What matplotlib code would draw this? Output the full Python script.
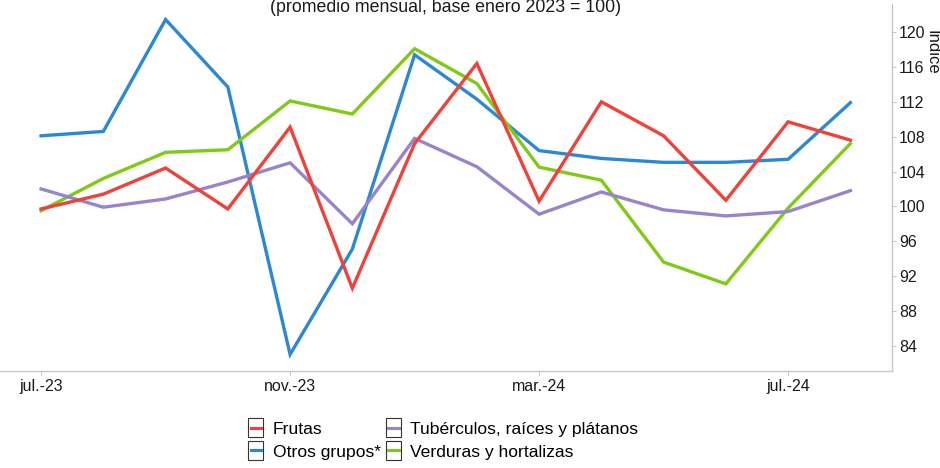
import matplotlib
matplotlib.use('Agg')
from matplotlib import pyplot as plt
from matplotlib.patches import Rectangle
from matplotlib.lines import Line2D

plt.rcParams['font.family'] = ['Liberation Sans', 'DejaVu Sans']

# meses jul-23 .. ago-24
meses = ['jul.-23', 'ago.-23', 'sep.-23', 'oct.-23', 'nov.-23', 'dic.-23', 'ene.-24',
         'feb.-24', 'mar.-24', 'abr.-24', 'may.-24', 'jun.-24', 'jul.-24', 'ago.-24']
frutas = [99.7, 101.4, 104.4, 99.7, 109.1, 90.6, 107.2, 116.4, 100.6, 112.0, 108.1, 100.7, 109.7, 107.6]
otros = [108.1, 108.6, 121.45, 113.7, 83.0, 95.1, 117.4, 112.3, 106.4, 105.5, 105.05, 105.05, 105.4, 111.9]
tuberculos = [102.0, 99.9, 100.85, 102.8, 105.0, 98.0, 107.8, 104.55, 99.1, 101.65, 99.6, 98.9, 99.4, 101.8]
verduras = [99.5, 103.2, 106.2, 106.5, 112.1, 110.6, 118.1, 114.1, 104.5, 103.0, 93.6, 91.1, 99.8, 107.2]

series = [
    ('Frutas', frutas, '#f0413a'),
    ('Otros grupos*', otros, '#2d88d3'),
    ('Tubérculos, raíces y plátanos', tuberculos, '#9884cb'),
    ('Verduras y hortalizas', verduras, '#80c916'),
]
# orden de dibujo (verduras debajo, frutas encima al final)
orden_dibujo = [1, 3, 2, 0]


class CajaHandler:
    # cuadro con borde y linea corta dentro, como la leyenda original
    def legend_artist(self, legend, orig_handle, fontsize, handlebox):
        x0, y0 = handlebox.xdescent, handlebox.ydescent
        w, h = handlebox.width, handlebox.height
        rect = Rectangle((x0 - 0.5, y0 - 0.25 * h), w, h * 1.5, facecolor='white',
                         edgecolor='#333333', lw=0.8, transform=handlebox.get_transform())
        ln = Line2D([x0 + 1.2, x0 + w - 2.2], [y0 + h / 2, y0 + h / 2], color=orig_handle.get_color(),
                    lw=2.2, transform=handlebox.get_transform())
        handlebox.add_artist(rect)
        handlebox.add_artist(ln)
        return rect


fig = plt.figure(figsize=(9.4, 4.68), dpi=100)
ax = fig.add_axes([0.0, 0.2073, 0.949, 0.7836])

x = list(range(len(meses)))
lineas = {}
for i in orden_dibujo:
    nombre, vals, color = series[i]
    l, = ax.plot(x, vals, color=color, lw=2.4, label=nombre, solid_joinstyle='miter')
    lineas[i] = l

ax.set_xlim(-0.66, 13.67)
ax.set_ylim(81.1, 123.2)

ax.set_xticks(x[::4])
ax.set_xticklabels(meses[::4])
ax.set_yticks(range(84, 121, 4))

ax.yaxis.tick_right()
for s in ['left', 'top']:
    ax.spines[s].set_visible(False)
for s in ['bottom', 'right']:
    ax.spines[s].set_color('#c8c8c8')
    ax.spines[s].set_linewidth(1.0)
ax.tick_params(axis='both', colors='#c8c8c8', length=3, width=0.8, labelcolor='#1a1a1a', labelsize=11.5)
ax.tick_params(axis='x', pad=3)
ax.tick_params(axis='y', pad=2)

fig.text(0.991, 0.889, 'Indice', rotation=-90, ha='center', va='center', fontsize=12, color='#1a1a1a')
fig.text(0.4745, 0.983, '(promedio mensual, base enero 2023 = 100)', ha='center', va='center',
         fontsize=12.8, color='#1a1a1a')

handles = [lineas[0], lineas[1], lineas[2], lineas[3]]
labels = [series[i][0] for i in range(4)]
leg = fig.legend(handles, labels, ncol=2, loc='center', bbox_to_anchor=(0.472, 0.0577),
                 frameon=False, fontsize=12.6, handlelength=0.85, handleheight=0.75,
                 handletextpad=0.5, columnspacing=0.35, labelspacing=0.4,
                 handler_map={Line2D: CajaHandler()})

fig.savefig('out.png', dpi=100, facecolor='white')
